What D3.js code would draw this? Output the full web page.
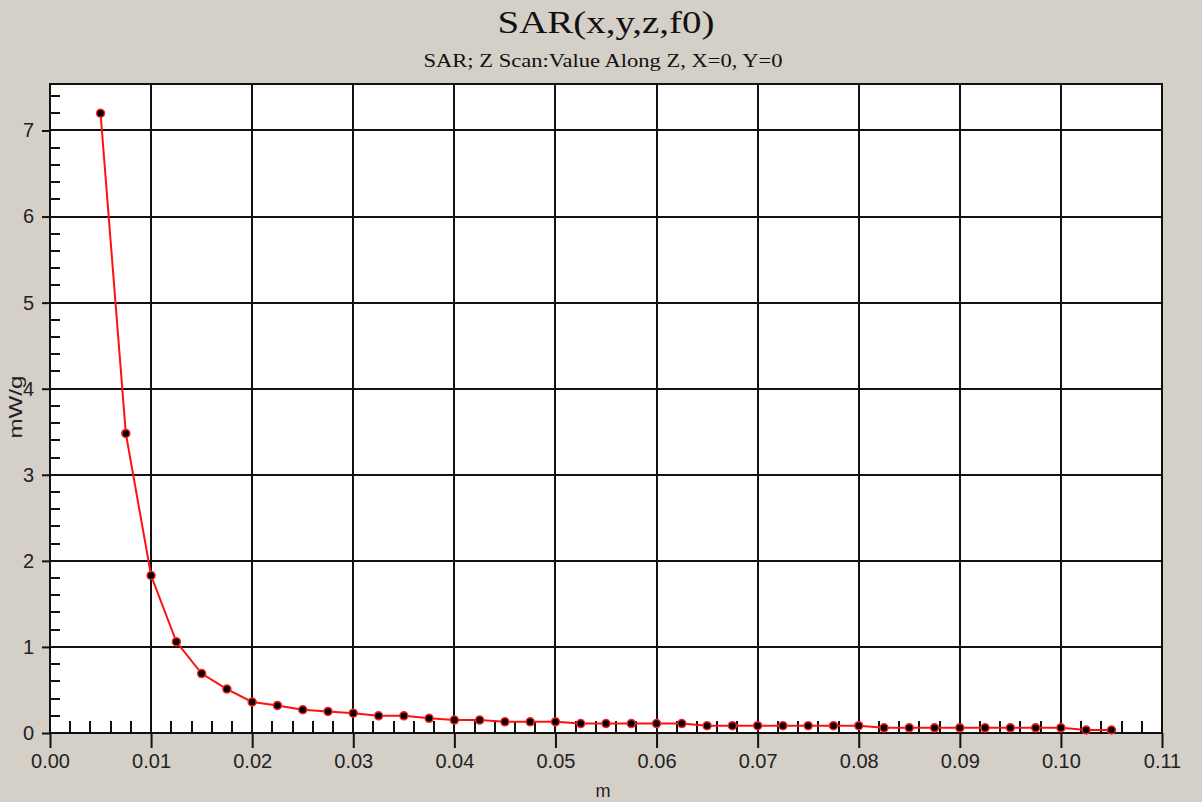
<html>
<head>
<title>SAR Z scan</title>
<script src="https://d3js.org/d3.v7.min.js"></script>
<style>
body { margin: 0; background: #d4d0c8; }
svg { display: block; }
.tick text { font-family: "Liberation Sans", Arial, sans-serif; font-size: 20px; fill: #222; }
</style>
</head>
<body>
<script>
// z position in m, sampled every 2.5 mm
var zPos = [0.005, 0.0075, 0.01, 0.0125, 0.015, 0.0175, 0.02, 0.0225, 0.025, 0.0275,
  0.03, 0.0325, 0.035, 0.0375, 0.04, 0.0425, 0.045, 0.0475, 0.05, 0.0525,
  0.055, 0.0575, 0.06, 0.0625, 0.065, 0.0675, 0.07, 0.0725, 0.075, 0.0775,
  0.08, 0.0825, 0.085, 0.0875, 0.09, 0.0925, 0.095, 0.0975, 0.1, 0.1025, 0.105];
var sarValues = [7.20, 3.48, 1.83, 1.06, 0.69, 0.51, 0.36, 0.32, 0.27, 0.25,
  0.23, 0.20, 0.20, 0.17, 0.15, 0.15, 0.13, 0.13, 0.13, 0.11,
  0.11, 0.11, 0.11, 0.11, 0.085, 0.085, 0.085, 0.085, 0.085, 0.085,
  0.085, 0.06, 0.06, 0.06, 0.06, 0.06, 0.06, 0.06, 0.06, 0.035, 0.035];
var xTicks = [0, 0.01, 0.02, 0.03, 0.04, 0.05, 0.06, 0.07, 0.08, 0.09, 0.10, 0.11];
var yTicks = [0, 1, 2, 3, 4, 5, 6, 7];

var width = 1202, height = 802;
var pLeft = 50, pRight = 1162, pTop = 84, pBottom = 733;

var x = d3.scaleLinear().domain([0, 0.11]).range([pLeft, pRight]);
var y = d3.scaleLinear().domain([0, 7.54]).range([pBottom, pTop]);

var svg = d3.select('body').append('svg')
  .attr('width', width).attr('height', height);

svg.append('rect').attr('width', width).attr('height', height).attr('fill', '#d4d0c8');
svg.append('rect')
  .attr('x', pLeft).attr('y', pTop)
  .attr('width', pRight - pLeft).attr('height', pBottom - pTop)
  .attr('fill', '#fff');

// grid
svg.append('g').selectAll('line').data(xTicks.slice(1, -1)).enter().append('line')
  .attr('x1', function(d) { return Math.round(x(d)); }).attr('x2', function(d) { return Math.round(x(d)); })
  .attr('y1', pTop).attr('y2', pBottom)
  .attr('stroke', '#111').attr('stroke-width', 2);
svg.append('g').selectAll('line').data(yTicks.slice(1)).enter().append('line')
  .attr('y1', function(d) { return Math.round(y(d)); }).attr('y2', function(d) { return Math.round(y(d)); })
  .attr('x1', pLeft).attr('x2', pRight)
  .attr('stroke', '#111').attr('stroke-width', 2);

// minor ticks, pointing inwards
var xMinor = d3.range(0, 56).map(function(i) { return i * 0.002; }).filter(function(d, i) { return i % 5 != 0; });
var yMinor = d3.range(0, 38).map(function(i) { return i * 0.2; }).filter(function(d, i) { return i % 5 != 0; });

svg.append('g').selectAll('line').data(xMinor).enter().append('line')
  .attr('x1', function(d) { return Math.round(x(d)); }).attr('x2', function(d) { return Math.round(x(d)); })
  .attr('y1', pBottom).attr('y2', pBottom - 12)
  .attr('stroke', '#111').attr('stroke-width', 2);
svg.append('g').selectAll('line').data(yMinor).enter().append('line')
  .attr('y1', function(d) { return Math.round(y(d)); }).attr('y2', function(d) { return Math.round(y(d)); })
  .attr('x1', pLeft).attr('x2', pLeft + 10)
  .attr('stroke', '#111').attr('stroke-width', 2);

// frame
svg.append('rect')
  .attr('x', pLeft).attr('y', pTop)
  .attr('width', pRight - pLeft).attr('height', pBottom - pTop)
  .attr('fill', 'none').attr('stroke', '#111').attr('stroke-width', 2);

// axes with major ticks outwards
var xAxis = svg.append('g')
  .attr('transform', 'translate(0,' + pBottom + ')')
  .call(d3.axisBottom(x).tickValues(xTicks).tickFormat(d3.format('.2f')).tickSize(15).tickPadding(6));
var yAxis = svg.append('g')
  .attr('transform', 'translate(' + pLeft + ',0)')
  .call(d3.axisLeft(y).tickValues(yTicks).tickFormat(d3.format('d')).tickSize(8).tickPadding(8));
[xAxis, yAxis].forEach(function(a) {
  a.select('.domain').remove();
  a.selectAll('.tick line').attr('stroke', '#111').attr('stroke-width', 2);
});

// data line and points
var pts = zPos.map(function(d, i) { return [d, sarValues[i]]; });
var line = d3.line()
  .x(function(d) { return x(d[0]); })
  .y(function(d) { return y(d[1]); });

svg.append('path').datum(pts)
  .attr('d', line)
  .attr('fill', 'none').attr('stroke', '#ff1010').attr('stroke-width', 2);

svg.append('g').selectAll('circle').data(pts).enter().append('circle')
  .attr('cx', function(d) { return x(d[0]); })
  .attr('cy', function(d) { return y(d[1]); })
  .attr('r', 4)
  .attr('fill', '#000').attr('stroke', '#ff2020').attr('stroke-width', 1.5);

// titles
svg.append('text')
  .attr('x', (pLeft + pRight) / 2).attr('y', 33)
  .attr('text-anchor', 'middle')
  .attr('textLength', 217).attr('lengthAdjust', 'spacingAndGlyphs')
  .style('font-family', '"Liberation Serif", "Times New Roman", serif')
  .style('font-size', '31px').attr('fill', '#111')
  .text('SAR(x,y,z,f0)');
svg.append('text')
  .attr('x', (pLeft + pRight) / 2 - 3).attr('y', 67)
  .attr('text-anchor', 'middle')
  .attr('textLength', 359).attr('lengthAdjust', 'spacingAndGlyphs')
  .style('font-family', '"Liberation Serif", "Times New Roman", serif')
  .style('font-size', '19px').attr('fill', '#111')
  .text('SAR; Z Scan:Value Along Z, X=0, Y=0');

svg.append('text')
  .attr('x', 603).attr('y', 797)
  .attr('text-anchor', 'middle')
  .style('font-family', '"Liberation Sans", Arial, sans-serif')
  .style('font-size', '18px').attr('fill', '#222')
  .text('m');
svg.append('text')
  .attr('transform', 'translate(22,407) rotate(-90)')
  .attr('text-anchor', 'middle')
  .attr('textLength', 63).attr('lengthAdjust', 'spacingAndGlyphs')
  .style('font-family', '"Liberation Sans", Arial, sans-serif')
  .style('font-size', '19px').attr('fill', '#222')
  .text('mW/g');
</script>
</body>
</html>
